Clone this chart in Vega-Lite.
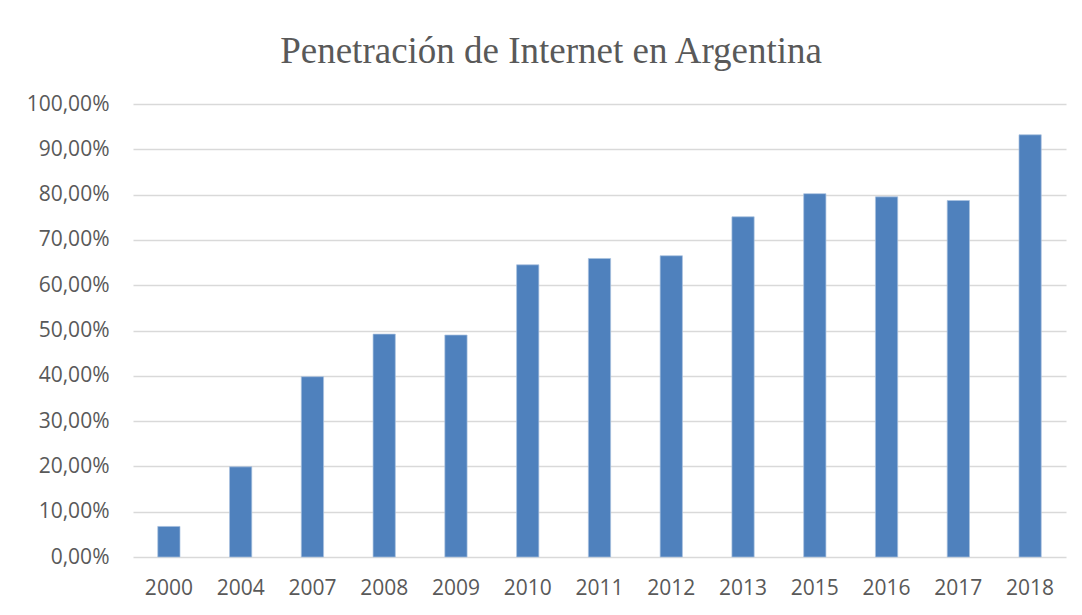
{
  "$schema": "https://vega.github.io/schema/vega-lite/v6.json",
  "width": 933,
  "height": 453,
  "autosize": "none",
  "padding": {"left": 133, "top": 104, "right": 16, "bottom": 58},
  "background": "white",
  "config": {
    "locale": {"number": {"decimal": ",", "thousands": ".", "grouping": [3], "currency": ["", " €"]}},
    "view": {"stroke": null},
    "font": "Open Sans"
  },
  "title": {
    "text": "Penetración de Internet en Argentina",
    "font": "Liberation Serif",
    "fontSize": 37,
    "fontWeight": "normal",
    "color": "#595959",
    "anchor": "middle",
    "frame": "bounds",
    "dx": 5,
    "offset": 22
  },
  "data": {
    "values": [
      {"year": "2000", "value": 0.0675},
      {"year": "2004", "value": 0.199},
      {"year": "2007", "value": 0.398},
      {"year": "2008", "value": 0.492},
      {"year": "2009", "value": 0.490},
      {"year": "2010", "value": 0.645},
      {"year": "2011", "value": 0.659},
      {"year": "2012", "value": 0.665},
      {"year": "2013", "value": 0.751},
      {"year": "2015", "value": 0.802},
      {"year": "2016", "value": 0.795},
      {"year": "2017", "value": 0.787},
      {"year": "2018", "value": 0.932}
    ]
  },
  "mark": {"type": "bar", "color": "#4F81BD", "stroke": "#a9c1e0", "strokeWidth": 0.7},
  "encoding": {
    "x": {
      "field": "year",
      "type": "nominal",
      "sort": null,
      "scale": {"paddingInner": 0.69, "paddingOuter": 0.345},
      "axis": {
        "title": null,
        "labelAngle": 0,
        "labelFontSize": 21,
        "labelColor": "#595959",
        "labelPadding": 20,
        "ticks": false,
        "domain": false,
        "grid": false
      }
    },
    "y": {
      "field": "value",
      "type": "quantitative",
      "scale": {"domain": [0, 1]},
      "axis": {
        "title": null,
        "format": ".2%",
        "values": [0, 0.1, 0.2, 0.3, 0.4, 0.5, 0.6, 0.7, 0.8, 0.9, 1.0],
        "labelFontSize": 21,
        "labelColor": "#595959",
        "labelPadding": 24,
        "ticks": false,
        "domain": false,
        "grid": true,
        "gridColor": "#d9d9d9",
        "gridWidth": 1.3
      }
    }
  }
}
